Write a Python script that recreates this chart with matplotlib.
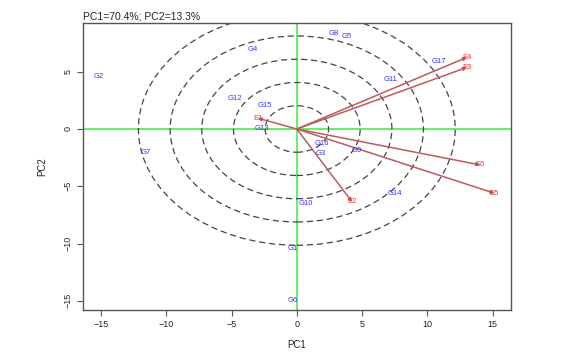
import matplotlib
matplotlib.use("Agg")
import matplotlib.pyplot as plt
from matplotlib.patches import Ellipse

# genotype scores (PC1, PC2)
g_labels = ["G1", "G2", "G3", "G4", "G5", "G6", "G7", "G8", "G9", "G10",
            "G11", "G12", "G13", "G14", "G15", "G16", "G17"]
g_x = [-0.34, -15.2, 1.86, -3.37, 3.8, -0.34, -11.55, 2.85, 4.6, 0.71,
       7.15, -4.78, -2.68, 7.53, -2.43, 1.92, 10.85]
g_y = [-10.47, 4.62, -2.18, 6.98, 8.1, -14.95, -2.03, 8.35, -1.9, -6.5,
       4.28, 2.62, 0.0, -5.61, 2.09, -1.25, 5.85]

# environment vectors
e_labels = ["E1", "E2", "E3", "E4", "E5", "E6"]
e_x = [-3.0, 4.24, 13.03, 13.03, 15.14, 14.05]
e_y = [0.95, -6.37, 5.38, 6.26, -5.61, -3.14]

# concentric rings (half-axes in PC1 / PC2 units)
ring_rx = [2.43, 4.85, 7.28, 9.7, 12.13]
ring_ry = [2.03, 4.06, 6.09, 8.12, 10.15]

title = "PC1=70.4%; PC2=13.3%"

plt.rcParams['font.family'] = ['Liberation Sans', 'DejaVu Sans']

fig = plt.figure(figsize=(5.88, 3.52), dpi=100)
ax = fig.add_axes([0.1406, 0.1185, 0.7284, 0.817])
ax.set_xlim(-16.4, 16.4)
ax.set_ylim(-15.83, 9.28)

ax.axhline(0, color='#66ee66', lw=1.4, zorder=1)
ax.axvline(0, color='#66ee66', lw=1.4, zorder=1)

for rx, ry in zip(ring_rx, ring_ry):
    ax.add_patch(Ellipse((0, 0), 2 * rx, 2 * ry, fill=False, ls=(0, (5, 3)),
                         lw=0.9, edgecolor='#444444', zorder=2))

for lab, x, y in zip(e_labels, e_x, e_y):
    ax.annotate("", xy=(x, y), xytext=(0, 0),
                arrowprops=dict(arrowstyle='-|>', color='#b85c5c', lw=1.1,
                                mutation_scale=5, shrinkA=0, shrinkB=0),
                zorder=3)
    ax.text(x, y, lab, color='#ff3333', fontsize=5.5, ha='center',
            va='center', zorder=4)

for lab, x, y in zip(g_labels, g_x, g_y):
    ax.text(x, y, lab, color='#3333ff', fontsize=5.5, ha='center',
            va='center', zorder=4)

ax.set_xticks([-15, -10, -5, 0, 5, 10, 15])
ax.set_yticks([-15, -10, -5, 0, 5])
ax.tick_params(direction='out', length=4, width=0.8, color='#555555',
               labelsize=6.5, labelcolor='#222222', pad=3)
for lab in ax.get_yticklabels():
    lab.set_rotation(90)
    lab.set_va('center')
for s in ax.spines.values():
    s.set_color('#555555')
    s.set_linewidth(1.0)

ax.set_xlabel("PC1", fontsize=7, color='#222222', labelpad=8)
ax.set_ylabel("PC2", fontsize=7, color='#222222', labelpad=12)
ax.set_title(title, loc='left', fontsize=7.5, color='#222222', pad=2)

fig.savefig("out.png", dpi=100)
